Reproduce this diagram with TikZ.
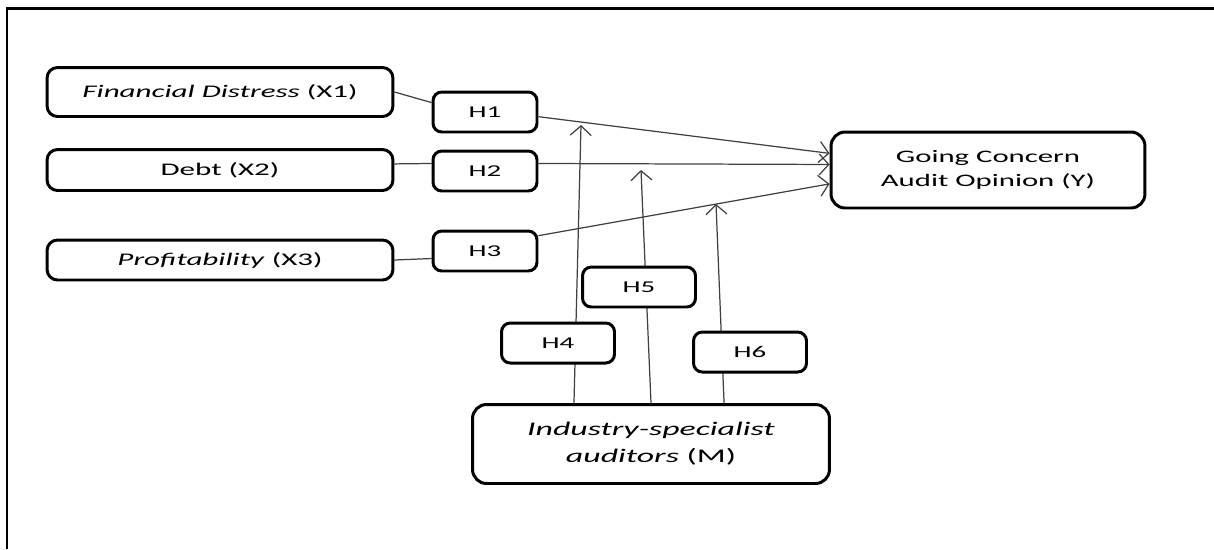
\documentclass[tikz,border=0pt]{standalone}
\usepackage{fontspec}
\setmainfont{Carlito}[FakeStretch=1.75]
\usetikzlibrary{arrows.meta,calc,backgrounds}

\tikzset{
  varbox/.style={draw,line width=1.7pt,fill=white,rounded corners=6pt,inner sep=0pt,minimum width=6.92cm},
  hbox/.style={draw,line width=1.7pt,fill=white,rounded corners=5pt,inner sep=0pt,minimum height=.8cm,font=\fontsize{9.4}{11}\selectfont},
  link/.style={draw=black!75,line width=.7pt},
}

\begin{document}
\begin{tikzpicture}[x=.02cm,y=-.02cm,>={Straight Barb[length=1.9mm,width=4.2mm]},font=\fontsize{10.1}{12}\selectfont]
  \useasboundingbox (0,0) rectangle (1214,549);
  \draw[line width=1.7pt] (1214,8) -- (7,8) -- (7,549);

  % independent variables and their hypotheses
  \node[varbox,minimum height=.98cm] (fd) at (220,92) {\textit{Financial Distress} (X1)};
  \node[varbox,minimum height=.82cm] (debt) at (220,170) {Debt (X2)};
  \node[varbox,minimum height=.8cm] (prof) at (220,260) {\textit{Profitability} (X3)};
  \foreach \n/\y in {1/112,2/171,3/251}
    \node[hbox,minimum width=2.08cm] (h\n) at (485,\y) {H\n};

  % dependent and moderating variable
  \node[varbox,minimum width=6.28cm,minimum height=1.52cm,align=center,rounded corners=8pt,
        font=\fontsize{10}{13.6}\selectfont] (y) at (988,170) {Going Concern\\Audit Opinion (Y)};
  \node[varbox,minimum width=7.14cm,minimum height=1.58cm,align=center,rounded corners=8pt,
        font=\fontsize{11}{15.5}\selectfont] (m) at (651,444) {\textit{Industry-specialist}\\\textit{auditors} (M)};
  \foreach \n/\x/\y in {4/558/343,5/639/287,6/750/352}
    \node[hbox,minimum width=2.26cm] (h\n) at (\x,\y) {H\n};

  \coordinate (t4) at (581,125);
  \coordinate (t5) at (641,170);
  \coordinate (t6) at (716,204);

  \begin{scope}[on background layer]
    \draw[link] (fd.east) -- (h1.170);
    \draw[link] (debt.2) -- (h2.172);
    \draw[link] (prof.east) -- (h3.188);
    \draw[link,->] (h1.-5) -- (y.174);
    \draw[link,->] (h2.8) -- (y.178);
    \draw[link,->] (h3.16) -- (y.185);
    \foreach \t/\f in {4/.286,5/.5,6/.703}
      \draw[link,->] ($(m.north west)!\f!(m.north east)$) -- (t\t);
  \end{scope}
\end{tikzpicture}
\end{document}
